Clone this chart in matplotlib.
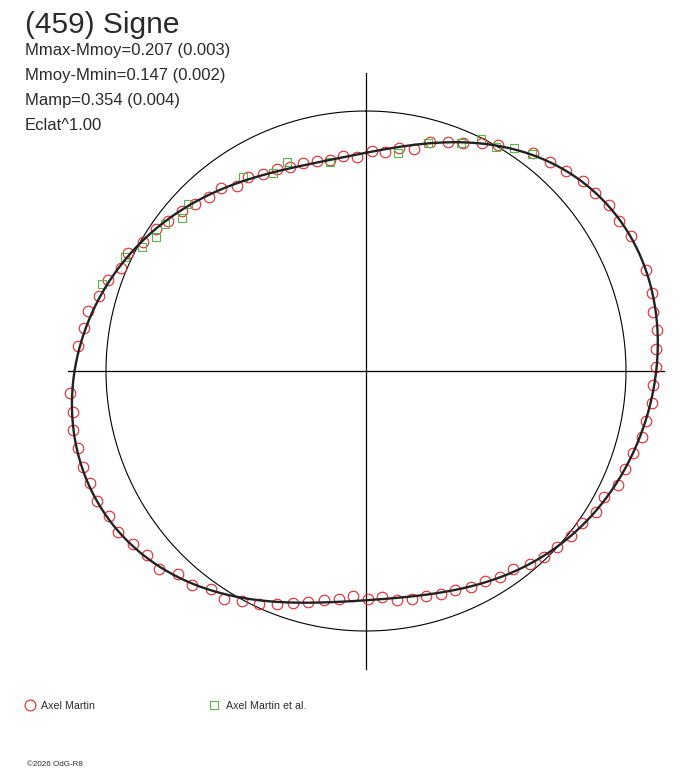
"""Polar light curve of (459) Signe: relative flux vs rotational phase."""
import numpy as np
import matplotlib.pyplot as plt

# rotational phase (deg, clockwise from top) and relative flux (mean = 1)
martin_phase = [
    1.5, 5.0, 8.5, 12.3, 15.6, 19.6, 23.0, 26.9, 30.4, 37.5,
    41.3, 45.0, 48.7, 52.1, 55.7, 59.4, 63.0, 70.2, 74.7, 78.3,
    81.9, 85.6, 89.3, 92.8, 96.4, 100.1, 103.5, 107.1, 110.7, 114.3,
    117.9, 121.6, 125.2, 128.8, 132.6, 136.2, 139.7, 143.3, 147.0, 150.5,
    154.1, 157.9, 161.4, 165.1, 168.7, 172.2, 176.0, 179.5, 183.2, 186.7,
    190.3, 194.0, 197.5, 201.0, 204.7, 208.4, 211.9, 215.4, 219.1, 222.8,
    226.3, 229.9, 233.4, 237.1, 240.6, 244.2, 247.9, 251.3, 255.0, 258.6,
    262.1, 265.7, 275.0, 278.6, 282.1, 285.7, 289.4, 292.9, 296.5, 300.1,
    304.0, 307.2, 311.0, 314.3, 318.0, 321.6, 325.2, 328.7, 332.4, 336.2,
    339.6, 343.2, 346.8, 350.3, 354.0, 357.5,
]
martin_flux = [
    0.847, 0.844, 0.868, 0.873, 0.913, 0.935, 0.953, 0.982, 1.007, 1.056,
    1.072, 1.087, 1.109, 1.116, 1.132, 1.132, 1.144, 1.143, 1.139, 1.128,
    1.132, 1.118, 1.115, 1.106, 1.108, 1.094, 1.091, 1.076, 1.065, 1.065,
    1.036, 1.038, 1.017, 1.012, 0.999, 0.990, 0.975, 0.948, 0.946, 0.928,
    0.925, 0.909, 0.906, 0.895, 0.894, 0.889, 0.873, 0.878, 0.866, 0.882,
    0.895, 0.917, 0.936, 0.959, 0.986, 1.004, 1.032, 1.030, 1.060, 1.063,
    1.100, 1.100, 1.115, 1.137, 1.134, 1.148, 1.146, 1.150, 1.146, 1.148,
    1.137, 1.142, 1.113, 1.097, 1.092, 1.066, 1.053, 1.023, 1.021, 0.990,
    0.975, 0.957, 0.937, 0.919, 0.902, 0.898, 0.867, 0.872, 0.853, 0.850,
    0.838, 0.835, 0.831, 0.823, 0.832, 0.823,
]
martin_etal_phase = [
    8.3, 15.3, 22.6, 26.4, 30.1, 33.6, 37.3, 288.2, 295.4, 299.0,
    302.6, 306.1, 309.8, 313.2, 327.6, 334.8, 339.2, 350.2,
]
martin_etal_flux = [
    0.848, 0.908, 0.948, 0.996, 0.997, 1.030, 1.051, 1.070, 1.026, 0.986,
    0.960, 0.957, 0.922, 0.938, 0.885, 0.843, 0.860, 0.817,
]

title = "(459) Signe"
stats = [
    "Mmax-Mmoy=0.207 (0.003)",
    "Mmoy-Mmin=0.147 (0.002)",
    "Mamp=0.354 (0.004)",
    "Eclat^1.00",
]
series_labels = ["Axel Martin", "Axel Martin et al."]
mmoy_mmin = 0.147

RED = "#e8262b"
GREEN = "#58b548"
FONT = "Liberation Sans"
TXT = "#2a2a2a"

# Fourier fit of the combined data (order 4)
ph = np.deg2rad(np.array(martin_phase + martin_etal_phase))
fl = np.array(martin_flux + martin_etal_flux)
order = 4


def design(t):
    cols = [np.ones_like(t)]
    for k in range(1, order + 1):
        cols += [np.cos(k * t), np.sin(k * t)]
    return np.column_stack(cols)


coef = np.linalg.lstsq(design(ph), fl, rcond=None)[0]
t = np.linspace(0, 2 * np.pi, 721)
fit = design(t) @ coef

W, H = 688, 768
fig = plt.figure(figsize=(W / 100, H / 100), dpi=100)

rlim = 1.17
rad_px = 260 * rlim
cx, cy = 366, H - 371
ax = fig.add_axes([(cx - rad_px) / W, (cy - rad_px) / H,
                   2 * rad_px / W, 2 * rad_px / H], projection="polar")
ax.set_theta_zero_location("N")
ax.set_theta_direction(-1)
ax.set_rlim(0, rlim)
ax.grid(False)
ax.set_xticks([])
ax.set_yticks([])
ax.spines["polar"].set_visible(False)
ax.patch.set_alpha(0)

# reference circle (mean flux) and cross
ax.plot(t, np.ones_like(t), color="black", lw=0.8)
rcross = 10 ** (0.4 * mmoy_mmin)
for a in (0, 0.5 * np.pi, np.pi, 1.5 * np.pi):
    ax.plot([a, a], [0, rcross], color="black", lw=0.9)

ax.plot(np.deg2rad(martin_phase), martin_flux, "o", ms=7.6, mfc="none",
        mec=RED, mew=0.8, clip_on=False)
ax.plot(np.deg2rad(martin_etal_phase), martin_etal_flux, "s", ms=5.4,
        mfc="none", mec=GREEN, mew=0.8, clip_on=False)
ax.plot(t, fit, color="#222222", lw=1.7, clip_on=False)

# header text
fig.text(25 / W, 1 - 33 / H, title, fontsize=21.5, family=FONT,
         color=TXT, va="baseline")
for i, s in enumerate(stats):
    fig.text(25 / W, 1 - (55 + 25 * i) / H, s, fontsize=12, family=FONT,
             color=TXT, va="baseline")

# legend
fig.lines.append(plt.Line2D([30 / W], [1 - 705 / H], marker="o", ms=7.8,
                            mfc="none", mec=RED, mew=0.8,
                            transform=fig.transFigure))
fig.text(41 / W, 1 - 709 / H, series_labels[0], fontsize=7.7, family=FONT,
         color=TXT, va="baseline")
fig.lines.append(plt.Line2D([213.5 / W], [1 - 705 / H], marker="s", ms=5.6,
                            mfc="none", mec=GREEN, mew=0.8,
                            transform=fig.transFigure))
fig.text(226 / W, 1 - 709 / H, series_labels[1], fontsize=7.7, family=FONT,
         color=TXT, va="baseline")

fig.text(27 / W, 1 - 766 / H, "\u00a92026 OdG-R8", fontsize=5.8,
         family=FONT, color=TXT, va="baseline")

fig.savefig("out.png", dpi=100)
plt.close(fig)
